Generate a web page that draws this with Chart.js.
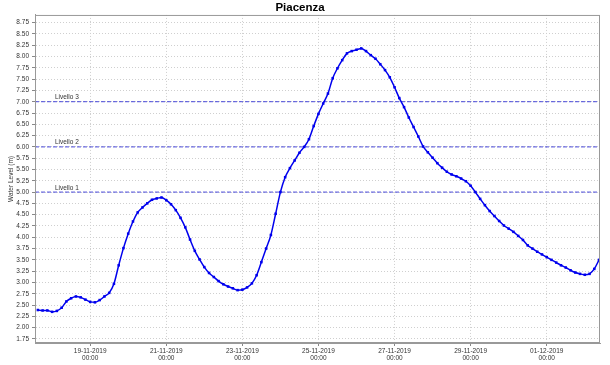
<!DOCTYPE html>
<html>
<head>
<meta charset="utf-8">
<script src="https://cdn.jsdelivr.net/npm/chart.js@4.4.1/dist/chart.umd.min.js"></script>
<style>
  html, body { margin: 0; padding: 0; background: #fff; }
  #wrap { width: 610px; height: 365px; }
</style>
</head>
<body>
<div id="wrap"><canvas id="chart"></canvas></div>
<script>
// --- data ---
// hours counted from 17-11-2019 00:00, one reading every 3 hours
const startHour = 15;
const stepHours = 3;
const levels = [
  2.39, 2.38, 2.38, 2.35, 2.37, 2.44, 2.58, 2.65, 2.69, 2.67,
  2.62, 2.57, 2.56, 2.61, 2.69, 2.77, 2.97, 3.38, 3.76, 4.08,
  4.35, 4.55, 4.66, 4.75, 4.83, 4.86, 4.88, 4.82, 4.73, 4.60,
  4.43, 4.22, 3.95, 3.70, 3.51, 3.34, 3.21, 3.12, 3.03, 2.96,
  2.91, 2.87, 2.83, 2.84, 2.89, 2.98, 3.16, 3.45, 3.75, 4.05,
  4.52, 5.00, 5.33, 5.53, 5.70, 5.87, 6.00, 6.17, 6.46, 6.73,
  6.96, 7.18, 7.52, 7.74, 7.92, 8.07, 8.12, 8.15, 8.18, 8.12,
  8.03, 7.95, 7.83, 7.70, 7.54, 7.32, 7.08, 6.88, 6.65, 6.44,
  6.23, 6.01, 5.88, 5.76, 5.64, 5.54, 5.45, 5.39, 5.35, 5.30,
  5.24, 5.14, 5.00, 4.85, 4.71, 4.58, 4.47, 4.36, 4.26, 4.19,
  4.12, 4.03, 3.94, 3.82, 3.75, 3.68, 3.62, 3.56, 3.50, 3.44,
  3.38, 3.33, 3.27, 3.22, 3.19, 3.17, 3.19, 3.30, 3.50
];

const thresholdValues = [5, 6, 7];
const thresholdNames = ['Livello 1', 'Livello 2', 'Livello 3'];

const xTicks = [48, 96, 144, 192, 240, 288, 336];
const xTickDates = ['19-11-2019', '21-11-2019', '23-11-2019', '25-11-2019', '27-11-2019', '29-11-2019', '01-12-2019'];
const yTicks = [1.75, 2.00, 2.25, 2.50, 2.75, 3.00, 3.25, 3.50, 3.75, 4.00, 4.25, 4.50, 4.75,
  5.00, 5.25, 5.50, 5.75, 6.00, 6.25, 6.50, 6.75, 7.00, 7.25, 7.50, 7.75, 8.00, 8.25, 8.50, 8.75];

const xMin = 13.2, xMax = 369.6;
const yMin = 1.66, yMax = 8.92;

// --- chart ---
const FONT = 'Liberation Sans, Arial, sans-serif';
const LINE_BLUE = '#0000ee';
const DASH_BLUE = '#4a4ad8';

const series = levels.map((v, i) => ({ x: startHour + i * stepHours, y: v }));

const datasets = [{
  data: series,
  borderColor: LINE_BLUE,
  backgroundColor: LINE_BLUE,
  borderWidth: 1.5,
  pointStyle: 'rect',
  pointRadius: 1.8,
  pointBorderWidth: 0,
  cubicInterpolationMode: 'monotone'
}];

thresholdValues.forEach(v => {
  datasets.push({
    data: [{ x: xMin, y: v }, { x: xMax, y: v }],
    borderColor: DASH_BLUE,
    borderWidth: 1,
    borderDash: [4, 2],
    pointRadius: 0
  });
});

// frame + threshold captions
const extras = {
  id: 'extras',
  afterDatasetsDraw(chart) {
    const { ctx, chartArea: a, scales } = chart;
    ctx.save();
    ctx.font = '6.5px ' + FONT;
    ctx.fillStyle = '#333';
    ctx.textAlign = 'left';
    ctx.textBaseline = 'bottom';
    thresholdValues.forEach((v, i) => {
      ctx.fillText(thresholdNames[i], a.left + 20, scales.y.getPixelForValue(v) - 1);
    });
    ctx.strokeStyle = '#999';
    ctx.lineWidth = 1;
    ctx.strokeRect(a.left + 0.5, a.top + 0.5, a.right - a.left - 1, a.bottom - a.top - 1);
    ctx.restore();
  }
};

new Chart(document.getElementById('chart'), {
  type: 'line',
  data: { datasets },
  plugins: [extras],
  options: {
    responsive: true,
    maintainAspectRatio: false,
    animation: false,
    layout: { padding: { left: 0, right: 10, top: 0, bottom: 0 } },
    plugins: {
      legend: { display: false },
      tooltip: { enabled: false },
      title: {
        display: true,
        text: 'Piacenza',
        color: '#000',
        font: { family: FONT, size: 11.5, weight: 'bold', lineHeight: 1.3 },
        padding: { top: 0, bottom: 0 }
      }
    },
    scales: {
      x: {
        type: 'linear',
        min: xMin,
        max: xMax,
        afterBuildTicks: s => { s.ticks = xTicks.map(v => ({ value: v })); },
        afterFit: s => { s.height = 22; },
        ticks: {
          autoSkip: false,
          maxRotation: 0,
          padding: 1,
          color: '#333',
          font: { family: FONT, size: 6.5, lineHeight: 1.2 },
          callback: (v, i) => [xTickDates[i], '00:00']
        },
        grid: {
          color: '#cfcfcf',
          tickColor: '#888',
          tickLength: 3,
          tickBorderDash: []
        },
        border: { display: true, color: '#999', dash: [1, 2] }
      },
      y: {
        min: yMin,
        max: yMax,
        afterBuildTicks: s => { s.ticks = yTicks.map(v => ({ value: v })); },
        afterFit: s => { s.width = 35; },
        ticks: {
          autoSkip: false,
          padding: 3,
          color: '#333',
          font: { family: FONT, size: 6.5 },
          callback: v => v.toFixed(2)
        },
        grid: {
          color: '#cfcfcf',
          tickColor: '#888',
          tickLength: 3,
          tickBorderDash: []
        },
        border: { display: true, color: '#999', dash: [1, 2] },
        title: {
          display: true,
          text: 'Water Level (m)',
          color: '#333',
          font: { family: FONT, size: 6.5 },
          padding: { top: 7, bottom: 0 }
        }
      }
    }
  }
});
</script>
</body>
</html>
